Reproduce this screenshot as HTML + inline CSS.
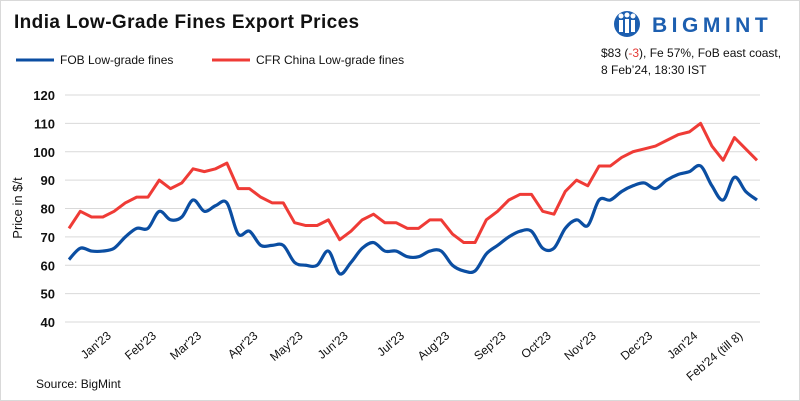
<!DOCTYPE html>
<html><head><meta charset="utf-8"><style>
body{margin:0;background:#fff;font-family:"Liberation Sans",sans-serif}
#wrap{position:relative;width:798px;height:399px;border:1px solid #d9d9d9;overflow:hidden}
</style></head><body>
<div id="wrap">
<svg id="svg" width="800" height="401" style="position:absolute;left:-1px;top:-1px">
<text x="14" y="28" font-size="19" font-weight="bold" fill="#111" letter-spacing="0.4">India Low-Grade Fines Export Prices</text>
<g>
<circle cx="627" cy="24" r="13" fill="#1d5fb0"/>
<circle cx="621" cy="16" r="2.5" fill="#fff"/><circle cx="627" cy="15" r="2.5" fill="#fff"/><circle cx="633" cy="16" r="2.5" fill="#fff"/>
<rect x="619" y="20" width="4" height="12" fill="#fff"/><rect x="625" y="19" width="4" height="14" fill="#fff"/><rect x="631" y="20" width="4" height="12" fill="#fff"/>
<text x="652" y="32" font-size="21" font-weight="bold" fill="#1d5fb0" letter-spacing="4.5">BIGMINT</text>
</g>
<text x="601" y="57" font-size="12" fill="#111">$83 (<tspan fill="#e53935">-3</tspan>), Fe 57%, FoB east coast,</text>
<text x="601" y="74" font-size="12" fill="#111">8 Feb’24, 18:30 IST</text>
<g>
<line x1="16" y1="60" x2="54" y2="60" stroke="#0b4ea2" stroke-width="3"/>
<text x="60" y="64" font-size="12" fill="#111">FOB Low-grade fines</text>
<line x1="212" y1="60" x2="250" y2="60" stroke="#ef3b36" stroke-width="3"/>
<text x="256" y="64" font-size="12" fill="#111">CFR China Low-grade fines</text>
</g>
<text transform="translate(22,208) rotate(-90)" text-anchor="middle" font-size="13" fill="#111">Price in $/t</text>
<g id="grid"></g><g id="lines"></g><g id="xl"></g>
<text x="36" y="388" font-size="12" fill="#111">Source: BigMint</text>
</svg>
</div>
<script>
const yTicks=[40,50,60,70,80,90,100,110,120];
const xLabels=["Jan'23","Feb'23","Mar'23","Apr'23","May'23","Jun'23","Jul'23","Aug'23","Sep'23","Oct'23","Nov'23","Dec'23","Jan'24","Feb'24 (till 8)"];
const xLabelIdx=[3,7,11,16,20,24,29,33,38,42,46,51,55,59];
const fob=[62,66,65,65,66,70,73,73,79,76,77,83,79,81,82,71,72,67,67,67,61,60,60,65,57,61,66,68,65,65,63,63,65,65,60,58,58,64,67,70,72,72,66,66,73,76,74,83,83,86,88,89,87,90,92,93,95,88,83,91,86,83];
const cfr=[73,79,77,77,79,82,84,84,90,87,89,94,93,94,96,87,87,84,82,82,75,74,74,76,69,72,76,78,75,75,73,73,76,76,71,68,68,76,79,83,85,85,79,78,86,90,88,95,95,98,100,101,102,104,106,107,110,102,97,105,101,97];
const NS="http://www.w3.org/2000/svg";
const X0=69,X1=757,Y0=322,Y1=95,gx0=65,gx1=760;
const n=cfr.length;
function xs(i){return X0+(X1-X0)*i/(n-1);}
function ys(v){return Y0-(v-40)*(Y0-Y1)/80;}
function mk(t,a,p){const e=document.createElementNS(NS,t);for(const k in a)e.setAttribute(k,a[k]);p.appendChild(e);return e;}
const grid=document.getElementById('grid');
yTicks.forEach(v=>{
 const l=mk('line',{x1:gx0,x2:gx1,y1:ys(v),y2:ys(v),stroke:'#d9d9d9','stroke-width':1},grid);
 
 
 const t=mk('text',{x:55,y:ys(v)+5,'text-anchor':'end','font-size':13,'font-weight':'bold',fill:'#111'},grid);
 t.textContent=v;
 
 
});
const xl=document.getElementById('xl');
xLabels.forEach((s,k)=>{
 const x=xs(xLabelIdx[k])+9;
 const t=mk('text',{transform:`translate(${x},337) rotate(-40)`,'text-anchor':'end','font-size':12,fill:'#111'},xl);
 t.textContent=s;
 
 
});
function smooth(vals){
 const p=vals.map((v,i)=>[xs(i),ys(v)]);
 let d=`M${p[0][0]},${p[0][1]}`;
 for(let i=0;i<p.length-1;i++){
  const p0=p[i-1]||p[i],p1=p[i],p2=p[i+1],p3=p[i+2]||p2;
  const c1=[p1[0]+(p2[0]-p0[0])/6,p1[1]+(p2[1]-p0[1])/6],c2=[p2[0]-(p3[0]-p1[0])/6,p2[1]-(p3[1]-p1[1])/6];
  d+=`C${c1[0]},${c1[1]} ${c2[0]},${c2[1]} ${p2[0]},${p2[1]}`;
 }
 return d;
}
const lines=document.getElementById('lines');
const r=mk('polyline',{points:cfr.map((v,i)=>xs(i)+','+ys(v)).join(' '),fill:'none',stroke:'#ef3b36','stroke-width':3,'stroke-linejoin':'round'},lines);


const b=mk('path',{d:smooth(fob),fill:'none',stroke:'#0b4ea2','stroke-width':3.2},lines);


</script>
</body></html>
